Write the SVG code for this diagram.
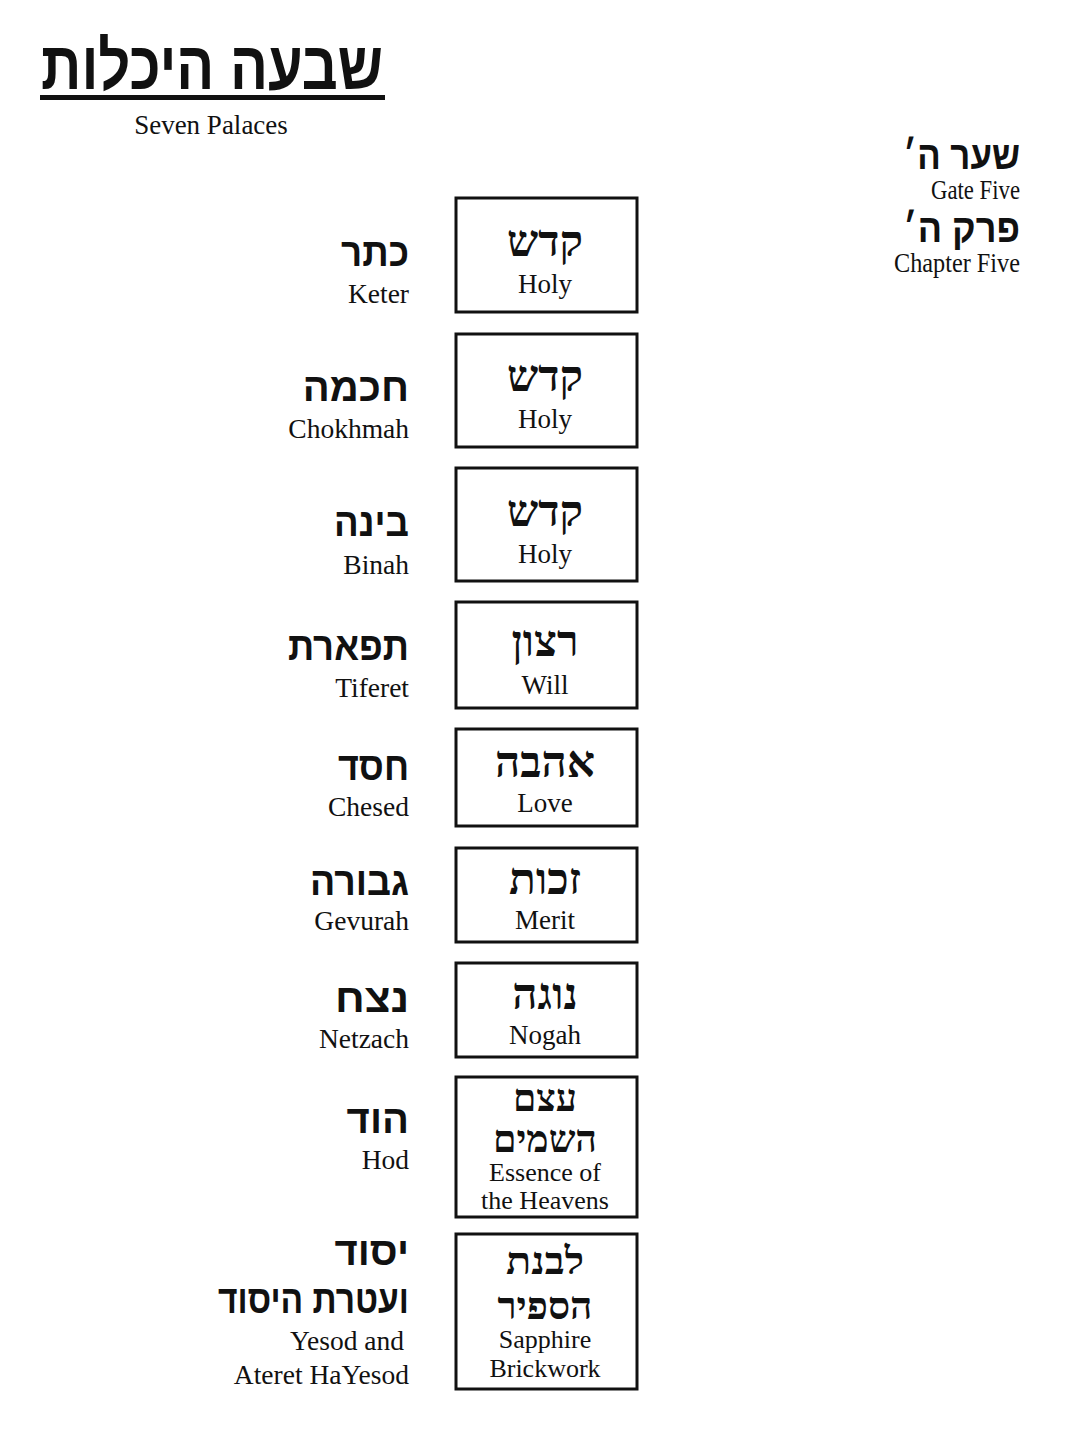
<svg xmlns="http://www.w3.org/2000/svg" width="1086" height="1448" viewBox="0 0 1086 1448">
<style>
.bg{fill:#fff}
.box{fill:#fff;stroke:#111;stroke-width:3}
.hb{font-family:"Liberation Serif","DejaVu Serif",serif;font-size:44px;font-weight:bold;fill:#111;text-anchor:middle}
.hb2{font-family:"Liberation Serif","DejaVu Serif",serif;font-size:38px;font-weight:bold;fill:#111;text-anchor:middle}
.en{font-family:"Liberation Serif","Times New Roman",serif;font-size:27px;fill:#111;text-anchor:middle}
.en2{font-family:"Liberation Serif","Times New Roman",serif;font-size:26px;fill:#111;text-anchor:middle}
.lh{font-family:"Liberation Sans","DejaVu Sans",sans-serif;font-size:40px;font-weight:bold;fill:#111;text-anchor:end}
.le{font-family:"Liberation Serif","Times New Roman",serif;font-size:27.5px;fill:#111;text-anchor:end}
</style>
<rect class="bg" x="0" y="0" width="1086" height="1448"/>
<g id="title">
<text x="212" y="89" font-family="Liberation Sans, DejaVu Sans, sans-serif" font-size="68" font-weight="bold" fill="#111" text-anchor="middle" textLength="342" lengthAdjust="spacingAndGlyphs">שבעה היכלות</text>
<rect x="40" y="95" width="345" height="5" fill="#111"/>
<text x="211" y="134" class="en" font-size="28">Seven Palaces</text>
</g>
<g id="gate">
<text x="1020" y="169" class="lh" font-size="36" textLength="117" lengthAdjust="spacingAndGlyphs">שער ה׳</text>
<text x="1020" y="199" class="le" font-size="20" textLength="89" lengthAdjust="spacingAndGlyphs">Gate Five</text>
<text x="1020" y="242" class="lh" font-size="36" textLength="117" lengthAdjust="spacingAndGlyphs">פרק ה׳</text>
<text x="1020" y="272" class="le" font-size="20" textLength="126" lengthAdjust="spacingAndGlyphs">Chapter Five</text>
</g>
<g id="keter">
<text x="409" y="266" class="lh" textLength="68" lengthAdjust="spacingAndGlyphs">כתר</text>
<text x="409" y="303" class="le">Keter</text>
</g>
<g id="chokhmah">
<text x="409" y="401" class="lh">חכמה</text>
<text x="409" y="438" class="le">Chokhmah</text>
</g>
<g id="binah">
<text x="409" y="536" class="lh" textLength="75" lengthAdjust="spacingAndGlyphs">בינה</text>
<text x="409" y="574" class="le">Binah</text>
</g>
<g id="tiferet">
<text x="409" y="660" class="lh" textLength="121" lengthAdjust="spacingAndGlyphs">תפארת</text>
<text x="409" y="697" class="le">Tiferet</text>
</g>
<g id="chesed">
<text x="409" y="780" class="lh" textLength="71" lengthAdjust="spacingAndGlyphs">חסד</text>
<text x="409" y="816" class="le">Chesed</text>
</g>
<g id="gevurah">
<text x="409" y="895" class="lh" textLength="99" lengthAdjust="spacingAndGlyphs">גבורה</text>
<text x="409" y="930" class="le">Gevurah</text>
</g>
<g id="netzach">
<text x="409" y="1012" class="lh" textLength="74" lengthAdjust="spacingAndGlyphs">נצח</text>
<text x="409" y="1048" class="le">Netzach</text>
</g>
<g id="hod">
<text x="409" y="1133" class="lh">הוד</text>
<text x="409" y="1169" class="le">Hod</text>
</g>
<g id="yesod">
<text x="409" y="1265" class="lh">יסוד</text>
<text x="409" y="1313" class="lh" textLength="191" lengthAdjust="spacingAndGlyphs">ועטרת היסוד</text>
<text x="404" y="1350" class="le">Yesod and</text>
<text x="409" y="1384" class="le">Ateret HaYesod</text>
</g>
<g id="box1">
<rect class="box" x="456" y="198" width="181" height="114"/>
<text x="545" y="256" class="hb">קדש</text>
<text x="545" y="293" class="en">Holy</text>
</g>
<g id="box2">
<rect class="box" x="456" y="334" width="181" height="113"/>
<text x="545" y="391" class="hb">קדש</text>
<text x="545" y="428" class="en">Holy</text>
</g>
<g id="box3">
<rect class="box" x="456" y="468" width="181" height="113"/>
<text x="545" y="526" class="hb">קדש</text>
<text x="545" y="563" class="en">Holy</text>
</g>
<g id="box4">
<rect class="box" x="456" y="602" width="181" height="106"/>
<text x="545" y="656" class="hb">רצון</text>
<text x="545" y="694" class="en">Will</text>
</g>
<g id="box5">
<rect class="box" x="456" y="729" width="181" height="97"/>
<text x="545" y="777" class="hb">אהבה</text>
<text x="545" y="812" class="en">Love</text>
</g>
<g id="box6">
<rect class="box" x="456" y="848" width="181" height="94"/>
<text x="545" y="894" class="hb">זכות</text>
<text x="545" y="929" class="en">Merit</text>
</g>
<g id="box7">
<rect class="box" x="456" y="963" width="181" height="94"/>
<text x="545" y="1009" class="hb">נוגה</text>
<text x="545" y="1044" class="en">Nogah</text>
</g>
<g id="box8">
<rect class="box" x="456" y="1077" width="181" height="140"/>
<text x="545" y="1111" class="hb2" textLength="64" lengthAdjust="spacingAndGlyphs">עצם</text>
<text x="545" y="1152" class="hb2" textLength="104" lengthAdjust="spacingAndGlyphs">השמים</text>
<text x="545" y="1181" class="en2">Essence of</text>
<text x="545" y="1209" class="en2">the Heavens</text>
</g>
<g id="box9">
<rect class="box" x="456" y="1234" width="181" height="155"/>
<text x="545" y="1274" class="hb2" textLength="78" lengthAdjust="spacingAndGlyphs">לבנת</text>
<text x="545" y="1319" class="hb2" textLength="95" lengthAdjust="spacingAndGlyphs">הספיר</text>
<text x="545" y="1348" class="en2">Sapphire</text>
<text x="545" y="1377" class="en2">Brickwork</text>
</g>
<g id="connectors"/>
</svg>
